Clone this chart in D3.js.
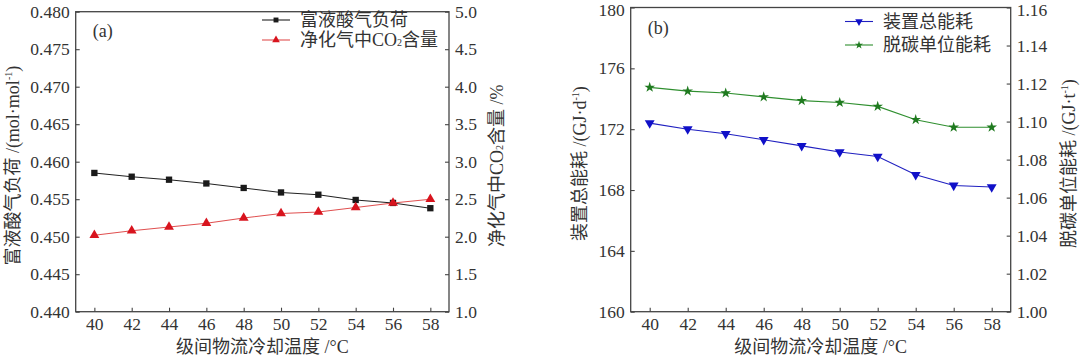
<!DOCTYPE html>
<html>
<head>
<meta charset="utf-8">
<script src="https://cdn.jsdelivr.net/npm/d3@7"></script>
<style>
  html, body { margin: 0; padding: 0; background: #fff; }
  svg { display: block; }
  text { font-family: "Liberation Serif", "Noto Sans CJK SC", serif; fill: #333; }
</style>
</head>
<body>
<svg id="chart" width="1080" height="357"></svg>
<script>
// ---- data ----
const temps = [40, 42, 44, 46, 48, 50, 52, 54, 56, 58];
const richLoad = [0.4585, 0.4580, 0.4576, 0.4571, 0.4565, 0.4559, 0.4556, 0.4549, 0.4545, 0.4538];
const co2Content = [2.02, 2.08, 2.13, 2.18, 2.25, 2.31, 2.33, 2.39, 2.45, 2.50];
const totalEnergy = [172.4, 172.0, 171.7, 171.3, 170.9, 170.5, 170.2, 169.0, 168.3, 168.2];
const unitEnergy = [1.118, 1.116, 1.115, 1.113, 1.111, 1.110, 1.108, 1.101, 1.097, 1.097];

const xTicks = [40, 42, 44, 46, 48, 50, 52, 54, 56, 58];
const loadTicks = [0.440, 0.445, 0.450, 0.455, 0.460, 0.465, 0.470, 0.475, 0.480];
const co2Ticks = [1.0, 1.5, 2.0, 2.5, 3.0, 3.5, 4.0, 4.5, 5.0];
const totalTicks = [160, 164, 168, 172, 176, 180];
const unitTicks = [1.00, 1.02, 1.04, 1.06, 1.08, 1.10, 1.12, 1.14, 1.16];

const xTitle = "级间物流冷却温度 /°C";

const svg = d3.select("#chart");
const FS = 17.5;

function drawPanel(cfg) {
  const g = svg.append("g");
  const x = d3.scaleLinear().domain([39, 59]).range([cfg.left, cfg.right]);
  const yL = d3.scaleLinear().domain(cfg.yLDomain).range([cfg.bottom, cfg.top]);
  const yR = d3.scaleLinear().domain(cfg.yRDomain).range([cfg.bottom, cfg.top]);

  const styleAxis = sel => {
    sel.select(".domain").remove();
    sel.selectAll(".tick line").attr("stroke", "#444").attr("stroke-width", 1.1);
    sel.selectAll(".tick text").style("font-size", FS + "px").attr("fill", "#333");
  };
  // keep the topmost tick label inside the picture
  const nudgeTop = (sel, topVal) => {
    sel.selectAll(".tick").filter(d => Math.abs(d - topVal) < 1e-9)
      .select("text").attr("dy", cfg.topNudge);
  };

  g.append("g").attr("transform", `translate(0,${cfg.bottom})`)
    .call(d3.axisBottom(x).tickValues(xTicks).tickSizeInner(-4).tickSizeOuter(0).tickPadding(6).tickFormat(d3.format("d")))
    .call(styleAxis);
  g.append("g").attr("transform", `translate(${cfg.left},0)`)
    .call(d3.axisLeft(yL).tickValues(cfg.yLTicks).tickSizeInner(-4).tickSizeOuter(0).tickPadding(6).tickFormat(d3.format(cfg.yLFmt)))
    .call(styleAxis)
    .call(s => nudgeTop(s, cfg.yLDomain[1]));
  g.append("g").attr("transform", `translate(${cfg.right},0)`)
    .call(d3.axisRight(yR).tickValues(cfg.yRTicks).tickSizeInner(-4).tickSizeOuter(0).tickPadding(6).tickFormat(d3.format(cfg.yRFmt)))
    .call(styleAxis)
    .call(s => nudgeTop(s, cfg.yRDomain[1]));

  g.append("rect")
    .attr("x", cfg.left).attr("y", cfg.top)
    .attr("width", cfg.right - cfg.left).attr("height", cfg.bottom - cfg.top)
    .attr("fill", "none").attr("stroke", "#444").attr("stroke-width", 1.3);

  // series
  cfg.series.forEach(s => {
    const y = s.axis === "L" ? yL : yR;
    const line = d3.line().x((d, i) => x(temps[i])).y(d => y(d));
    g.append("path").datum(s.values)
      .attr("d", line).attr("fill", "none")
      .attr("stroke", s.lineColor).attr("stroke-width", 1.1);
    g.selectAll(null).data(s.values).enter().append("path")
      .attr("transform", (d, i) => `translate(${x(temps[i])},${y(d)})${s.rotate ? " rotate(" + s.rotate + ")" : ""}`)
      .attr("d", d3.symbol().type(s.symbol).size(s.size)())
      .attr("fill", s.markerColor);
  });

  // legend
  cfg.series.forEach((s, i) => {
    const ly = cfg.legY[i];
    g.append("line").attr("x1", cfg.legX).attr("x2", cfg.legX + 28)
      .attr("y1", ly).attr("y2", ly).attr("stroke", s.lineColor).attr("stroke-width", 1.1);
    g.append("path")
      .attr("transform", `translate(${cfg.legX + 14},${ly})${s.rotate ? " rotate(" + s.rotate + ")" : ""}`)
      .attr("d", d3.symbol().type(s.symbol).size(s.size * 0.6)())
      .attr("fill", s.markerColor);
    const t = g.append("text").attr("x", cfg.legX + 38).attr("y", ly)
      .attr("dominant-baseline", "central").style("font-size", "18px");
    s.label.forEach(p => {
      const ts = t.append("tspan").text(p.t);
      if (p.sub) ts.attr("baseline-shift", "-25%").style("font-size", "10px");
    });
  });

  // panel label
  g.append("text").attr("x", cfg.left + 17).attr("y", cfg.labelY)
    .attr("dominant-baseline", "central").style("font-size", "18px").text(cfg.panelLabel);

  // x title
  g.append("text").attr("x", (cfg.left + cfg.right) / 2).attr("y", 347)
    .attr("text-anchor", "middle").attr("dominant-baseline", "central")
    .style("font-size", "18px").text(xTitle);

  // y titles
  const yTitle = (xPos, parts) => {
    const t = g.append("text")
      .attr("transform", `translate(${xPos},${(cfg.top + cfg.bottom) / 2 + 4}) rotate(-90)`)
      .attr("text-anchor", "middle").attr("dominant-baseline", "central")
      .style("font-size", "18px");
    parts.forEach(p => {
      const ts = t.append("tspan").text(p.t);
      if (p.sup) ts.attr("baseline-shift", "45%").style("font-size", "10px");
      if (p.sub) ts.attr("baseline-shift", "-25%").style("font-size", "10px");
    });
  };
  yTitle(cfg.yLTitleX, cfg.yLTitle);
  yTitle(cfg.yRTitleX, cfg.yRTitle);
}

drawPanel({
  left: 75.7, right: 449, top: 11.7, bottom: 311.7,
  yLDomain: [0.44, 0.48], yRDomain: [1, 5],
  yLTicks: loadTicks, yRTicks: co2Ticks, yLFmt: ".3f", yRFmt: ".1f",
  topNudge: "0.32em",
  panelLabel: "(a)", labelY: 31,
  legX: 262, legY: [20, 40],
  yLTitleX: 13, yRTitleX: 497,
  yLTitle: [{t: "富液酸气负荷 /(mol·mol"}, {t: "-1", sup: true}, {t: ")"}],
  yRTitle: [{t: "净化气中CO"}, {t: "2", sub: true}, {t: "含量 /%"}],
  series: [
    {values: richLoad, axis: "L", lineColor: "#222", markerColor: "#1a1a1a", symbol: d3.symbolSquare, size: 40,
     label: [{t: "富液酸气负荷"}]},
    {values: co2Content, axis: "R", lineColor: "#e05050", markerColor: "#d8141e", symbol: d3.symbolTriangle, size: 42,
     label: [{t: "净化气中CO"}, {t: "2", sub: true}, {t: "含量"}]}
  ]
});

drawPanel({
  left: 630.7, right: 1010.7, top: 7.5, bottom: 311.7,
  yLDomain: [160, 180], yRDomain: [1.00, 1.16],
  yLTicks: totalTicks, yRTicks: unitTicks, yLFmt: "d", yRFmt: ".2f",
  topNudge: "0.46em",
  panelLabel: "(b)", labelY: 28,
  legX: 845, legY: [21.5, 45],
  yLTitleX: 580, yRTitleX: 1069,
  yLTitle: [{t: "装置总能耗 /(GJ·d"}, {t: "-1", sup: true}, {t: ")"}],
  yRTitle: [{t: "脱碳单位能耗 /(GJ·t"}, {t: "-1", sup: true}, {t: ")"}],
  series: [
    {values: totalEnergy, axis: "L", lineColor: "#2020c0", markerColor: "#1010c8", symbol: d3.symbolTriangle, size: 42, rotate: 180,
     label: [{t: "装置总能耗"}]},
    {values: unitEnergy, axis: "R", lineColor: "#2f8f2f", markerColor: "#1f7a1f", symbol: d3.symbolStar, size: 35,
     label: [{t: "脱碳单位能耗"}]}
  ]
});
</script>
</body>
</html>
